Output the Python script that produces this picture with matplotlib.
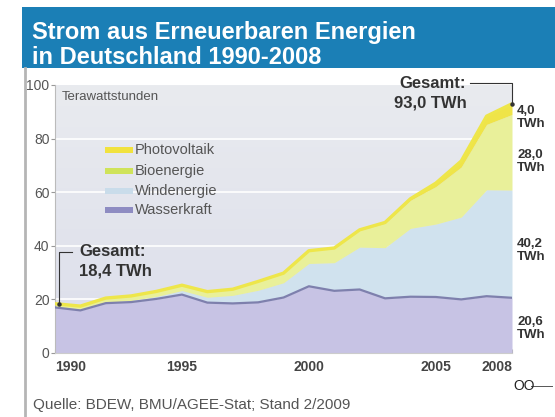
import numpy as np
import matplotlib
matplotlib.use("Agg")
import matplotlib.pyplot as plt
from matplotlib.patches import Rectangle
from matplotlib.lines import Line2D
from matplotlib.colors import LinearSegmentedColormap

years = [1990, 1991, 1992, 1993, 1994, 1995, 1996, 1997, 1998, 1999,
         2000, 2001, 2002, 2003, 2004, 2005, 2006, 2007, 2008]
wasserkraft = [17.0, 15.9, 18.6, 19.0, 20.2, 21.8, 18.8, 18.5, 18.9, 20.7,
               24.9, 23.2, 23.7, 20.4, 21.0, 20.9, 20.0, 21.2, 20.6]
windenergie = [0.0, 0.1, 0.3, 0.6, 0.9, 1.5, 2.0, 3.0, 4.5, 5.5,
               8.5, 10.5, 15.8, 18.9, 25.5, 27.2, 30.7, 39.7, 40.2]
bioenergie = [1.4, 1.5, 1.6, 1.7, 1.9, 2.0, 2.1, 2.3, 3.3, 3.6,
              4.7, 5.4, 6.3, 9.1, 10.5, 14.0, 18.7, 24.4, 28.2]
photovoltaik = [0.0, 0.0, 0.0, 0.0, 0.0, 0.0, 0.0, 0.0, 0.0, 0.0,
                0.06, 0.08, 0.16, 0.31, 0.56, 1.28, 2.22, 3.08, 4.0]
series_names = ["Photovoltaik", "Bioenergie", "Windenergie", "Wasserkraft"]
xtick_years = [1990, 1995, 2000, 2005, 2008]
ytick_vals = [0, 20, 40, 60, 80, 100]
end_labels = ["4,0\nTWh", "28,0\nTWh", "40,2\nTWh", "20,6\nTWh"]

x = np.array(years)
h = np.array(wasserkraft)
w = h + np.array(windenergie)
b = w + np.array(bioenergie)
p = b + np.array(photovoltaik)

FONT = "Liberation Sans"
W, H = 555, 417
fig = plt.figure(figsize=(W / 100, H / 100), dpi=100)
fig.patch.set_facecolor("white")

def fx(px):
    return px / W

def fy(py):
    return 1 - py / H

# title banner
fig.patches.append(Rectangle((fx(22), fy(68)), fx(555) - fx(22), fy(7) - fy(68),
                             transform=fig.transFigure, facecolor="#1b7fb6",
                             edgecolor="none", zorder=0))
fig.text(fx(32), fy(32), "Strom aus Erneuerbaren Energien", color="white",
         fontsize=17, fontweight="bold", family=FONT, va="center")
fig.text(fx(32), fy(57), "in Deutschland 1990-2008", color="white",
         fontsize=17, fontweight="bold", family=FONT, va="center")
# left frame line
fig.lines.append(Line2D([fx(25), fx(25)], [fy(68), 0], transform=fig.transFigure,
                        color="#b5b5b5", lw=2))

ax = fig.add_axes([fx(55), fy(353), fx(512) - fx(55), fy(85) - fy(353)])
ax.set_xlim(1990, 2008)
ax.set_ylim(0, 100)

# background gradient
grad = np.linspace(0, 1, 256).reshape(-1, 1)
bg_cmap = LinearSegmentedColormap.from_list("bg", ["#dcdeeb", "#e9ebef"])
ax.imshow(grad, extent=[1990, 2008, 0, 100], origin="lower", cmap=bg_cmap,
          aspect="auto", zorder=0)
for yv in [20, 40, 60, 80]:
    ax.axhline(yv, color="white", lw=1.2, zorder=1)

ax.fill_between(x, 0, h, color="#c7c3e4", zorder=2, lw=0)
ax.fill_between(x, h, w, color="#d0e2ee", zorder=2, lw=0)
ax.fill_between(x, w, b, color="#e9f09a", zorder=2, lw=0)
ax.fill_between(x, b, p, color="#efe448", zorder=2, lw=0)
ax.plot(x, h, color="#7e80ad", lw=1.6, zorder=3)
ax.plot(x, p, color="#eee64a", lw=2.4, zorder=3, solid_capstyle="butt")

for s in ["top", "right"]:
    ax.spines[s].set_visible(False)
ax.spines["left"].set_color("#bbbbbb")
ax.spines["bottom"].set_color("#cccccc")
ax.set_yticks(ytick_vals)
ax.set_yticklabels([str(v) for v in ytick_vals], fontsize=10, color="#555555",
                   family=FONT)
ax.tick_params(axis="y", length=3, color="#999999", pad=1)
ax.set_xticks(xtick_years)
ax.set_xticklabels([str(v) for v in xtick_years], fontsize=10, color="#444444",
                   family=FONT, fontweight="bold")
ax.set_xticks(years, minor=True)
ax.tick_params(axis="x", which="both", direction="in", length=3, color="#aaaaaa", pad=5)
labs = ax.get_xticklabels()
labs[0].set_ha("left")
labs[-1].set_ha("right")

ax.text(1990.28, 95.5, "Terawattstunden", fontsize=9.5, color="#555555",
        family=FONT, va="center", zorder=5)

# legend
leg_colors = ["#f1e23e", "#cfe35a", "#c9dcea", "#8e8cc2"]
leg_y = [150, 171, 191, 210]
for name, col, py in zip(series_names, leg_colors, leg_y):
    fig.patches.append(Rectangle((fx(105), fy(py + 3)), fx(28), fy(py - 3) - fy(py + 3),
                                 transform=fig.transFigure, facecolor=col,
                                 edgecolor="none", zorder=5))
    fig.text(fx(135), fy(py), name, fontsize=10.5, color="#555555",
             family=FONT, va="center", zorder=6)

# annotations
tot0 = p[0]
tot1 = p[-1]
ax.plot([1990.15, 1990.15, 1990.65], [tot0, 37.7, 37.7], color="#333333", lw=0.8,
        zorder=6, clip_on=False)
ax.plot([1990.15], [tot0], "o", color="#333333", ms=2.2, zorder=6)
ax.text(1990.95, 37.7, "Gesamt:", fontsize=12, fontweight="bold",
        color="#333333", family=FONT, va="center", ha="left", zorder=6)
ax.text(1990.95, 30.6, "18,4 TWh", fontsize=12, fontweight="bold",
        color="#333333", family=FONT, va="center", ha="left", zorder=6)
ax.plot([2006.35, 2008, 2008], [100.7, 100.7, tot1], color="#333333", lw=0.8,
        zorder=6, clip_on=False)
ax.plot([2008], [tot1], "o", color="#333333", ms=2.2, zorder=6, clip_on=False)
ax.text(2006.2, 100.7, "Gesamt:", fontsize=12, fontweight="bold",
        color="#333333", family=FONT, va="center", ha="right", zorder=6, clip_on=False)
ax.text(2006.2, 93.3, "93,0 TWh", fontsize=12, fontweight="bold",
        color="#333333", family=FONT, va="center", ha="right", zorder=6, clip_on=False)

label_pos = [88.0, 71.3, 38.4, 9.0]
for lab, ym in zip(end_labels, label_pos):
    ax.text(2008.2, ym, lab, fontsize=9.5, fontweight="bold", color="#333333",
            family=FONT, va="center", ha="left", linespacing=1.1,
            clip_on=False)

fig.text(fx(33), fy(405), "Quelle: BDEW, BMU/AGEE-Stat; Stand 2/2009", fontsize=11,
         color="#555555", family=FONT, va="center")
fig.text(fx(513), fy(386), "OO", fontsize=10, color="#222222", va="center",
         family=FONT)
fig.lines.append(Line2D([fx(531), fx(552)], [fy(386), fy(386)], transform=fig.transFigure,
                        color="#555555", lw=0.7))

fig.savefig("out.png", dpi=100)
